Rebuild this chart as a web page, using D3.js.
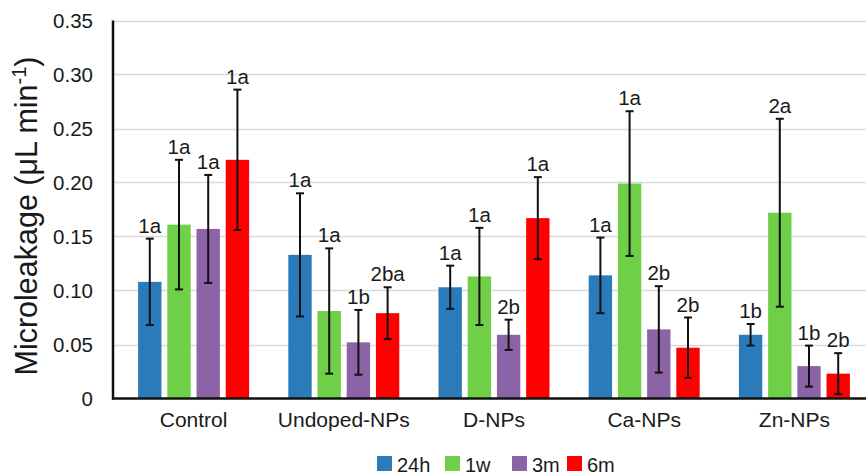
<!DOCTYPE html>
<html>
<head>
<meta charset="utf-8">
<script src="https://cdn.jsdelivr.net/npm/d3@7"></script>
<style>
  html, body { margin: 0; padding: 0; background: #fff; }
  svg { display: block; font-family: "Liberation Sans", Arial, sans-serif; }
</style>
</head>
<body>
<svg id="chart" width="866" height="476"></svg>
<script>
// Microleakage by material group and storage time (mean ± SD)
const categories = ["Control", "Undoped-NPs", "D-NPs", "Ca-NPs", "Zn-NPs"];
const seriesNames = ["24h", "1w", "3m", "6m"];
const seriesColors = ["#2b7bba", "#6fcf47", "#8c63a6", "#fe0000"];

const mean24h = [0.108, 0.133, 0.103, 0.114, 0.059];
const mean1w  = [0.161, 0.081, 0.113, 0.199, 0.172];
const mean3m  = [0.157, 0.052, 0.059, 0.064, 0.030];
const mean6m  = [0.221, 0.079, 0.167, 0.047, 0.023];

const sd24h = [0.040, 0.057, 0.020, 0.035, 0.010];
const sd1w  = [0.060, 0.058, 0.045, 0.067, 0.087];
const sd3m  = [0.050, 0.030, 0.014, 0.040, 0.019];
const sd6m  = [0.065, 0.024, 0.038, 0.028, 0.019];

const letters24h = ["1a", "1a", "1a", "1a", "1b"];
const letters1w  = ["1a", "1a", "1a", "1a", "2a"];
const letters3m  = ["1a", "1b", "2b", "2b", "1b"];
const letters6m  = ["1a", "2ba", "1a", "2b", "2b"];

const yTicks = [0, 0.05, 0.10, 0.15, 0.20, 0.25, 0.30, 0.35];

const means = [mean24h, mean1w, mean3m, mean6m];
const sds = [sd24h, sd1w, sd3m, sd6m];
const letters = [letters24h, letters1w, letters3m, letters6m];

const rows = [];
categories.forEach((c, ci) => {
  seriesNames.forEach((s, si) => {
    rows.push({ cat: c, series: s, si, value: means[si][ci], sd: sds[si][ci], label: letters[si][ci] });
  });
});

const svg = d3.select("#chart");
const axisX = 113;
const plotRight = 866;

const y = d3.scaleLinear().domain([0, 0.35]).range([398.5, 20.5]);
const x0 = d3.scaleBand().domain(categories).range([118.5, 869.5]).paddingInner(0).paddingOuter(0);
const groupSpan = 111;
const x1 = d3.scaleBand().domain(seriesNames).range([0, groupSpan]).paddingInner(0.2).paddingOuter(0);
const color = d3.scaleOrdinal().domain(seriesNames).range(seriesColors);

// horizontal gridlines
svg.append("g").selectAll("line").data(yTicks.filter(t => t > 0)).join("line")
  .attr("x1", axisX).attr("x2", plotRight)
  .attr("y1", d => Math.round(y(d)) + 0.5).attr("y2", d => Math.round(y(d)) + 0.5)
  .attr("stroke", "#d9d9d9").attr("stroke-width", 1.5);

// y axis tick labels
const yAxis = d3.axisLeft(y).tickValues(yTicks)
  .tickFormat(d => d === 0 ? "0" : d3.format(".2f")(d))
  .tickSize(0).tickPadding(20);
const gy = svg.append("g").attr("transform", `translate(${axisX},0)`).call(yAxis);
gy.select(".domain").remove();
gy.selectAll("text").attr("font-size", 20.5).attr("fill", "#1a1a1a")
  .attr("font-family", "'Liberation Sans', Arial, sans-serif");

// bars
const groups = svg.append("g").selectAll("g").data(categories).join("g")
  .attr("transform", d => `translate(${x0(d) + x0.bandwidth() / 2 - groupSpan / 2},0)`);

groups.selectAll("rect").data(c => rows.filter(r => r.cat === c)).join("rect")
  .attr("x", d => x1(d.series))
  .attr("width", x1.bandwidth())
  .attr("y", d => y(d.value))
  .attr("height", d => y(0) - y(d.value))
  .attr("fill", d => color(d.series));

// error bars
const cap = 4;
const eb = groups.selectAll("g.err").data(c => rows.filter(r => r.cat === c)).join("g").attr("class", "err")
  .attr("stroke", "#111").attr("stroke-width", 2);
eb.append("line")
  .attr("x1", d => x1(d.series) + x1.bandwidth() / 2).attr("x2", d => x1(d.series) + x1.bandwidth() / 2)
  .attr("y1", d => y(d.value + d.sd)).attr("y2", d => y(Math.max(0, d.value - d.sd)));
eb.append("line")
  .attr("x1", d => x1(d.series) + x1.bandwidth() / 2 - cap).attr("x2", d => x1(d.series) + x1.bandwidth() / 2 + cap)
  .attr("y1", d => y(d.value + d.sd)).attr("y2", d => y(d.value + d.sd));
eb.append("line")
  .attr("x1", d => x1(d.series) + x1.bandwidth() / 2 - cap).attr("x2", d => x1(d.series) + x1.bandwidth() / 2 + cap)
  .attr("y1", d => y(Math.max(0, d.value - d.sd))).attr("y2", d => y(Math.max(0, d.value - d.sd)));

// significance letters
groups.selectAll("text.sig").data(c => rows.filter(r => r.cat === c)).join("text").attr("class", "sig")
  .attr("x", d => x1(d.series) + x1.bandwidth() / 2)
  .attr("y", d => y(d.value + d.sd) - 6)
  .attr("text-anchor", "middle")
  .attr("font-size", 20.5).attr("fill", "#1a1a1a")
  .text(d => d.label);

// axis lines
svg.append("line").attr("x1", axisX).attr("x2", axisX).attr("y1", 20.5).attr("y2", 399.5)
  .attr("stroke", "#111").attr("stroke-width", 2.5);
svg.append("line").attr("x1", axisX - 1).attr("x2", plotRight).attr("y1", 398.5).attr("y2", 398.5)
  .attr("stroke", "#111").attr("stroke-width", 2.5);

// category labels
const xAxis = d3.axisBottom(x0).tickSize(0).tickPadding(14);
const gx = svg.append("g").attr("transform", "translate(0,398.5)").call(xAxis);
gx.select(".domain").remove();
gx.selectAll("text").attr("font-size", 21).attr("fill", "#1a1a1a")
  .attr("font-family", "'Liberation Sans', Arial, sans-serif");

// y axis title
const title = svg.append("text")
  .attr("transform", "translate(37,216) rotate(-90)")
  .attr("text-anchor", "middle")
  .attr("font-size", 30.5).attr("fill", "#1a1a1a");
title.append("tspan").text("Microleakage (μL min");
title.append("tspan").attr("dy", -11).attr("font-size", 20).text("-1");
title.append("tspan").attr("dy", 11).text(")");

// legend
const legendX = [377, 445, 512, 567];
const legend = svg.append("g").selectAll("g").data(seriesNames).join("g")
  .attr("transform", (d, i) => `translate(${legendX[i]},456)`);
legend.append("rect").attr("width", 15).attr("height", 15).attr("fill", d => color(d));
legend.append("text").attr("x", 20).attr("y", 15.5).attr("font-size", 20).attr("fill", "#1a1a1a").text(d => d);
</script>
</body>
</html>
